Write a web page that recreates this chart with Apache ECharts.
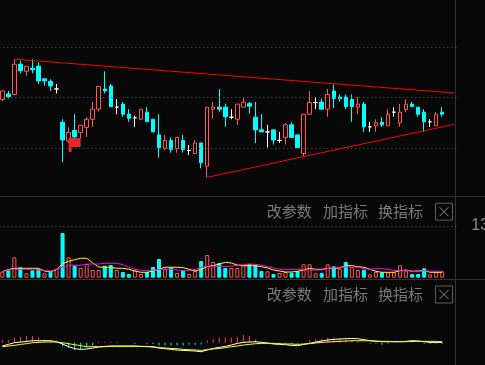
<!DOCTYPE html>
<html><head><meta charset="utf-8">
<script src="https://cdn.jsdelivr.net/npm/echarts@6/dist/echarts.min.js"></script>
<style>html,body{margin:0;padding:0;background:#080808;}#c{width:485px;height:365px;}</style>
</head><body><div id="c"></div>
<script>
// ---- data ----
const categories = ['1','2','3','4','5','6','7','8','9','10','11','12','13','14','15','16','17','18','19','20',
  '21','22','23','24','25','26','27','28','29','30','31','32','33','34','35','36','37','38','39','40',
  '41','42','43','44','45','46','47','48','49','50','51','52','53','54','55','56','57','58','59','60',
  '61','62','63','64','65','66','67','68','69','70','71','72','73','74','75','76'];

// [open, close, low, high]
const candles = [
  [10.96,11.13,10.93,11.13],[11.07,11.02,10.98,11.13],[11.06,11.66,11.05,11.76],[11.66,11.53,11.48,11.73],
  [11.52,11.62,11.43,11.62],[11.58,11.55,11.48,11.76],[11.62,11.33,11.27,11.70],[11.37,11.33,11.23,11.37],
  [11.32,11.23,11.13,11.36],[11.17,11.17,11.08,11.27],[10.51,10.16,9.72,10.57],[10.14,10.31,10.10,10.41],
  [10.35,10.22,10.20,10.67],[10.31,10.45,10.19,10.45],[10.41,10.57,10.22,10.61],[10.57,10.77,10.42,10.91],
  [10.77,11.22,10.72,11.22],[11.17,11.13,11.08,11.52],[11.23,10.82,10.82,11.27],[10.81,10.81,10.67,10.97],
  [10.87,10.67,10.62,10.91],[10.67,10.59,10.52,10.77],[10.60,10.60,10.42,10.64],[10.57,10.77,10.55,10.77],
  [10.71,10.52,10.52,10.81],[10.57,10.32,10.32,10.57],[10.26,10.01,9.81,10.67],[9.99,10.15,9.96,10.26],
  [10.15,9.97,9.91,10.21],[9.99,10.21,9.91,10.21],[10.15,9.97,9.91,10.26],[9.95,9.95,9.86,10.06],
  [9.89,10.10,9.89,10.15],[10.10,9.71,9.60,10.10],[9.64,10.81,9.42,10.81],[10.77,10.81,10.58,10.91],
  [10.81,10.77,10.72,11.17],[10.81,10.62,10.42,10.88],[10.61,10.61,10.57,10.77],[10.57,10.87,10.46,10.87],
  [10.81,10.91,10.81,11.01],[10.88,10.83,10.68,10.91],[10.61,10.36,10.10,10.91],[10.36,10.32,10.32,10.67],
  [10.32,10.32,10.01,10.46],[10.36,10.16,10.07,10.36],[10.15,10.15,10.10,10.32],[10.21,10.46,10.07,10.50],
  [10.46,10.21,10.21,10.51],[10.26,10.01,10.01,10.26],[9.89,10.67,9.84,10.67],[10.67,10.90,10.67,11.13],
  [10.90,10.90,10.77,11.01],[10.91,10.77,10.77,10.98],[10.77,11.06,10.62,11.17],[11.13,10.98,10.79,11.26],
  [11.01,10.98,10.92,11.06],[11.01,10.82,10.77,11.06],[10.96,10.82,10.52,11.06],[10.81,10.87,10.67,11.01],
  [10.87,10.42,10.32,10.91],[10.42,10.42,10.32,10.52],[10.44,10.50,10.32,10.57],[10.51,10.46,10.42,10.61],
  [10.44,10.67,10.44,10.77],[10.71,10.71,10.62,10.81],[10.50,10.71,10.42,10.87],[10.76,10.87,10.71,10.97],
  [10.87,10.82,10.82,10.91],[10.81,10.67,10.62,10.81],[10.71,10.52,10.32,10.77],[10.52,10.52,10.42,10.57],
  [10.44,10.67,10.44,10.71],[10.71,10.67,10.62,10.81]
];

const upperTrend = [[2, 11.76], [75, 11.09]];
const lowerTrend = [[34, 9.42], [75, 10.47]];
const flagMark = [12, 10.06];
const priceGridLevels = [10, 11, 12];
const priceRange = [9.05, 12.14];

const volumes = [1.51,1.86,5.13,2.62,1.11,1.86,2.19,1.11,1.51,2.26,11.24,5.13,3.02,2.44,3.44,1.94,1.94,3.02,3.19,1.94,
  1.43,0.93,1.86,0.93,1.43,2.69,4.70,2.26,2.62,1.18,1.86,0.93,1.68,4.20,5.71,3.95,3.70,2.44,2.44,2.44,
  3.12,3.44,3.27,1.68,1.61,0.93,1.18,1.43,1.26,1.61,3.37,3.37,1.11,1.18,3.37,2.87,2.26,3.95,2.62,1.94,
  2.01,0.85,1.43,1.36,1.36,1.36,3.12,1.76,0.93,0.93,2.36,0.85,1.43,1.61];
const volumeDir = [1,-1,1,-1,1,-1,-1,1,-1,1,-1,1,-1,1,1,1,1,-1,-1,1,
  -1,-1,1,1,-1,-1,-1,1,-1,1,-1,1,1,-1,1,1,-1,-1,1,1,
  1,-1,-1,-1,1,-1,1,1,-1,-1,1,1,1,-1,1,-1,1,-1,1,1,
  -1,1,1,-1,1,1,1,1,-1,-1,-1,1,1,1];
const volMA5 = [1.51,2.06,2.36,2.36,2.36,2.36,2.36,1.68,1.51,2.01,3.52,4.12,4.53,4.88,4.88,3.70,2.69,2.62,2.62,2.36,
  2.36,2.11,1.68,1.36,1.36,1.68,2.11,2.62,2.62,2.62,2.51,2.11,1.68,2.11,2.77,3.02,3.44,3.87,3.70,3.19,
  3.02,3.02,3.02,2.77,2.44,1.94,1.68,1.43,1.43,1.61,1.94,2.36,2.11,2.11,2.36,2.36,2.44,3.02,3.02,2.77,
  2.62,2.11,1.61,1.36,1.36,1.36,1.76,1.94,1.61,1.68,1.86,1.36,1.36,1.36];
const volMA10 = [1.51,1.86,2.11,2.11,2.11,1.94,1.94,1.86,1.68,2.11,2.62,3.12,3.12,3.12,3.44,3.44,3.44,3.62,3.62,3.62,
  3.27,2.62,2.11,1.86,1.86,1.86,2.11,2.11,2.11,1.94,1.76,1.76,2.11,2.62,2.87,2.87,2.87,2.77,2.94,3.12,
  3.27,3.44,3.37,3.12,2.77,2.44,2.11,2.11,2.11,2.11,1.94,1.94,1.94,1.94,2.36,2.44,2.62,2.69,2.69,2.62,
  2.26,2.11,2.26,2.26,2.11,1.86,1.86,1.86,1.61,1.61,1.76,1.61,1.61,1.61];
const volumeTicks = [13];
const volumeRange = [0, 13];

const macdHist = [0.027,0.027,0.053,0.06,0.067,0.067,0.053,0.033,0.027,0.013,
  -0.033,-0.05,-0.073,-0.067,-0.047,-0.027,0.01,0.01,0.01,0.01,
  0,0,-0.01,0,-0.01,-0.013,-0.027,-0.027,-0.027,-0.027,
  -0.027,-0.02,-0.02,-0.017,0.023,0.04,0.053,0.053,0.053,0.06,
  0.077,0.067,0.033,0.013,0.01,-0.01,-0.01,-0.01,-0.01,-0.01,
  0,0.027,0.033,0.04,0.053,0.053,0.04,0.033,0.027,0.02,
  0,-0.01,-0.01,-0.02,-0.01,0,0,0,0.01,0,
  -0.01,-0.01,-0.01,-0.01];
const macdDIF = [-0.033,-0.017,0,0.007,0.013,0.02,0.02,0.02,0.02,0.01,
  -0.013,-0.04,-0.06,-0.067,-0.063,-0.053,-0.043,-0.037,-0.033,-0.033,
  -0.033,-0.033,-0.033,-0.037,-0.037,-0.043,-0.053,-0.06,-0.067,-0.073,
  -0.077,-0.08,-0.083,-0.09,-0.073,-0.057,-0.047,-0.037,-0.023,-0.007,
  0.003,0.007,0.01,0.003,-0.003,-0.013,-0.017,-0.02,-0.027,-0.03,
  -0.017,-0.007,0.007,0.017,0.027,0.033,0.037,0.04,0.043,0.04,
  0.03,0.02,0.013,0.01,0.01,0.01,0.01,0.013,0.02,0.017,
  0.01,0.003,0.003,0.003];
const macdDEA = [-0.04,-0.033,-0.027,-0.017,-0.01,0,0.003,0.007,0.007,0.007,
  0,-0.01,-0.02,-0.03,-0.04,-0.04,-0.04,-0.04,-0.037,-0.037,
  -0.037,-0.037,-0.037,-0.037,-0.04,-0.04,-0.05,-0.053,-0.057,-0.06,
  -0.067,-0.07,-0.073,-0.077,-0.07,-0.063,-0.057,-0.05,-0.04,-0.033,
  -0.023,-0.017,-0.01,-0.007,-0.007,-0.007,-0.01,-0.013,-0.013,-0.017,
  -0.013,-0.01,-0.003,0.003,0.007,0.01,0.013,0.017,0.02,0.02,
  0.02,0.02,0.017,0.013,0.013,0.01,0.01,0.01,0.013,0.013,
  0.013,0.013,0.013,0.01];
const macdRange = [-0.216, 0.337];
const panelButtons = ['改参数', '加指标', '换指标'];

// ---- styling ----
const BG = '#080808', RED = '#ff5555', CYAN = '#00ffff';
const dotted = { color: '#5a5a5a', width: 1, type: [1, 3] };
const GL = -0.7, GW = 458;
const gridMark = (vals) => ({
  silent: true, symbol: ['none', 'none'], label: { show: false }, animation: false,
  lineStyle: dotted, emphasis: { disabled: true }, data: vals.map(v => ({ yAxis: v }))
});

const chart = echarts.init(document.getElementById('c'), null, { renderer: 'canvas' });

const buttonGraphics = [];
[211.7, 294.5].forEach(cy => {
  const xs = [266.7, 323, 378];
  panelButtons.forEach((t, k) => buttonGraphics.push({
    type: 'text', x: xs[k], y: cy, silent: true,
    style: { text: t, fill: '#7a7a7a', fontSize: 15, fontFamily: 'Noto Sans CJK SC', verticalAlign: 'middle', align: 'left' }
  }));
  const by = cy - 8.5;
  buttonGraphics.push({ type: 'rect', shape: { x: 435.5, y: by, width: 17, height: 17 }, style: { fill: 'none', stroke: '#5e5e5e', lineWidth: 1 }, silent: true });
  buttonGraphics.push({ type: 'line', shape: { x1: 439.5, y1: by + 4, x2: 448.5, y2: by + 13 }, style: { stroke: '#8a8a8a', lineWidth: 1 }, silent: true });
  buttonGraphics.push({ type: 'line', shape: { x1: 448.5, y1: by + 4, x2: 439.5, y2: by + 13 }, style: { stroke: '#8a8a8a', lineWidth: 1 }, silent: true });
});

const option = {
  backgroundColor: BG,
  animation: false,
  grid: [
    { left: GL, width: GW, top: 40, height: 156, outerBoundsMode: 'none' },
    { left: GL, width: GW, top: 226, height: 51.7, outerBoundsMode: 'none' },
    { left: GL, width: GW, top: 309, height: 55.3, outerBoundsMode: 'none' }
  ],
  xAxis: [0, 1, 2].map(i => ({ type: 'category', gridIndex: i, data: categories, boundaryGap: true, show: false })),
  yAxis: [
    { gridIndex: 0, type: 'value', min: priceRange[0], max: priceRange[1], show: false },
    { gridIndex: 1, type: 'value', min: volumeRange[0], max: volumeRange[1], interval: 13, position: 'right',
      axisLine: { show: false }, axisTick: { show: false }, splitLine: { show: false },
      axisLabel: { show: true, margin: 14, color: '#8a8a8a', fontSize: 16, fontFamily: 'Liberation Sans',
        formatter: v => volumeTicks.indexOf(v) >= 0 ? String(v) : '' } },
    { gridIndex: 2, type: 'value', min: macdRange[0], max: macdRange[1], show: false }
  ],
  series: [
    { type: 'candlestick', xAxisIndex: 0, yAxisIndex: 0, data: candles, barWidth: 4,
      itemStyle: { color: BG, color0: CYAN, borderColor: RED, borderColor0: CYAN, borderColorDoji: '#ffffff', borderWidth: 1 },
      markLine: gridMark(priceGridLevels),
      markPoint: { silent: true, animation: false, label: { show: false },
        data: [{ coord: flagMark, symbol: 'path://M0,0 L12,0 L12,9 L3,9 L3,14 L0,14 Z', symbolSize: [12, 14],
          itemStyle: { color: '#e82828' } }] } },
    { type: 'line', xAxisIndex: 0, yAxisIndex: 0, data: upperTrend, symbol: 'none', silent: true,
      lineStyle: { color: '#ff0000', width: 1 } },
    { type: 'line', xAxisIndex: 0, yAxisIndex: 0, data: lowerTrend, symbol: 'none', silent: true,
      lineStyle: { color: '#ff0000', width: 1 } },
    { type: 'bar', xAxisIndex: 1, yAxisIndex: 1, barWidth: 4,
      data: volumes.map((v, i) => ({ value: v, itemStyle: volumeDir[i] > 0
        ? { color: BG, borderColor: RED, borderWidth: 1 }
        : { color: CYAN, borderColor: CYAN, borderWidth: 1 } })),
      markLine: gridMark(volumeTicks) },
    { type: 'line', xAxisIndex: 1, yAxisIndex: 1, data: volMA5, symbol: 'none', silent: true,
      lineStyle: { color: '#ffff00', width: 1 } },
    { type: 'line', xAxisIndex: 1, yAxisIndex: 1, data: volMA10, symbol: 'none', silent: true,
      lineStyle: { color: '#ff00ff', width: 1 } },
    { type: 'bar', xAxisIndex: 2, yAxisIndex: 2, barWidth: 1,
      data: macdHist.map(v => ({ value: v, itemStyle: { color: v >= 0 ? '#ff3c3c' : CYAN } })),
      markLine: gridMark(macdRange) },
    { type: 'line', xAxisIndex: 2, yAxisIndex: 2, data: macdDIF, symbol: 'none', silent: true,
      lineStyle: { color: '#ffffff', width: 1 } },
    { type: 'line', xAxisIndex: 2, yAxisIndex: 2, data: macdDEA, symbol: 'none', silent: true,
      lineStyle: { color: '#ffff00', width: 1 } }
  ],
  graphic: [
    { type: 'line', shape: { x1: 0, y1: 196.5, x2: 485, y2: 196.5 }, style: { stroke: '#333333', lineWidth: 1 }, silent: true },
    { type: 'line', shape: { x1: 0, y1: 279.5, x2: 485, y2: 279.5 }, style: { stroke: '#333333', lineWidth: 1 }, silent: true },
    { type: 'line', shape: { x1: 455.5, y1: 0, x2: 455.5, y2: 365 }, style: { stroke: '#333333', lineWidth: 1 }, silent: true }
  ].concat(buttonGraphics)
};
chart.setOption(option);
</script>
</body></html>
